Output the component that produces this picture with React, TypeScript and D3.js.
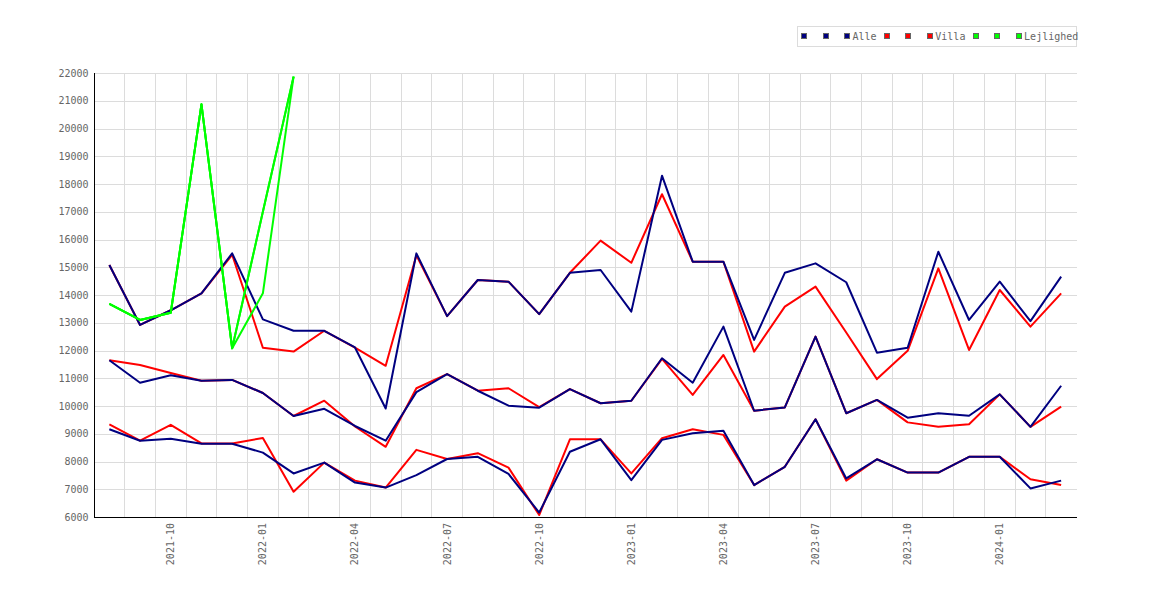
import React from 'react'
import * as d3 from 'd3'

// månedlige priser (kr/m2), aug 2021 - mar 2024
const months = [
	'2021-08', '2021-09', '2021-10', '2021-11', '2021-12',
	'2022-01', '2022-02', '2022-03', '2022-04', '2022-05', '2022-06',
	'2022-07', '2022-08', '2022-09', '2022-10', '2022-11', '2022-12',
	'2023-01', '2023-02', '2023-03', '2023-04', '2023-05', '2023-06',
	'2023-07', '2023-08', '2023-09', '2023-10', '2023-11', '2023-12',
	'2024-01', '2024-02', '2024-03',
]
const tickMonths = ['2021-10', '2022-01', '2022-04', '2022-07', '2022-10', '2023-01', '2023-04', '2023-07', '2023-10', '2024-01']

const alleHigh = [15080, 12920, 13450, 14060, 15500, 13120, 12710, 12710, 12110, 9910, 15500, 13240, 14540, 14480, 13310, 14800, 14900, 13400, 18300, 15200, 15200, 12380, 14800, 15140, 14460, 11920, 12100, 15560, 13100, 14480, 13060, 14660]
const alleMid = [11650, 10840, 11110, 10910, 10940, 10470, 9640, 9900, 9280, 8750, 10500, 11150, 10550, 10010, 9940, 10610, 10100, 10190, 11720, 10840, 12860, 9830, 9950, 12500, 9740, 10220, 9580, 9740, 9650, 10420, 9250, 10730]
const alleLow = [9160, 8750, 8820, 8640, 8640, 8320, 7570, 7960, 7240, 7060, 7510, 8090, 8170, 7550, 6160, 8350, 8800, 7330, 8780, 9020, 9110, 7150, 7810, 9520, 7390, 8080, 7600, 7600, 8170, 8170, 7030, 7310]

const villaHigh = [15080, 12920, 13450, 14060, 15450, 12100, 11960, 12710, 12100, 11450, 15430, 13240, 14540, 14480, 13310, 14800, 15960, 15160, 17630, 15200, 15200, 11960, 13580, 14300, 12650, 10970, 11990, 14960, 12020, 14180, 12860, 14060]
const villaMid = [11650, 11480, 11190, 10910, 10940, 10470, 9640, 10190, 9260, 8530, 10640, 11150, 10550, 10640, 9960, 10610, 10100, 10190, 11700, 10400, 11840, 9830, 9950, 12500, 9740, 10220, 9410, 9250, 9340, 10420, 9250, 9980]
const villaLow = [9340, 8750, 9320, 8650, 8650, 8850, 6910, 7960, 7310, 7060, 8420, 8090, 8300, 7780, 6070, 8800, 8800, 7570, 8840, 9160, 8960, 7150, 7810, 9520, 7310, 8080, 7600, 7600, 8170, 8170, 7360, 7150]

// lejligheder kun de første 7 måneder
const lejlHigh = [13680, 13100, 13360, 20870, 12080, 17000, 21870]
const lejlMid = [13680, 13100, 13360, 20870, 12080, 17000, 21870]
const lejlLow = [13680, 13100, 13360, 20870, 12080, 14060, 21870]

type serie = { name: string, color: string, lines: number[][] }
const series: serie[] = [
	{ name: 'Alle', color: '#000080', lines: [alleLow, alleMid, alleHigh] },
	{ name: 'Villa', color: '#ff0000', lines: [villaLow, villaMid, villaHigh] },
	{ name: 'Lejlighed', color: '#00ff00', lines: [lejlLow, lejlMid, lejlHigh] },
]
// tegnerækkefølge: villa under alle, lejlighed øverst
const drawOrder = [1, 0, 2]

const font = '"DejaVu Sans Mono", monospace'

export default function App() {
	const width = 1170
	const height = 600
	const left = 94, right = 1076.5, top = 73, bottom = 517

	const x = d3.scaleLinear().domain([-0.5, months.length - 0.5]).range([left, right])
	const y = d3.scaleLinear().domain([6000, 22000]).range([bottom, top])
	const line = d3.line<number>().x((d, i) => x(i)).y(d => y(d))

	const yTicks = y.ticks(16)
	const xGrid = d3.range(0, months.length - 1).map(i => i + 0.5)

	// legende: hver serie har 3 felter, kun det sidste har navn
	const legendItems: { color: string, label: string }[] = []
	series.forEach(s => {
		legendItems.push({ color: s.color, label: ' ' })
		legendItems.push({ color: s.color, label: ' ' })
		legendItems.push({ color: s.color, label: s.name })
	})
	let cx = 801
	const legendPos = legendItems.map(it => {
		const p = cx
		cx += 15.6 + 6 * it.label.length
		return p
	})

	return (
		<svg width={width} height={height} style={{ position: 'absolute', left: 0, top: 0, background: '#fff' }}>
			<g shapeRendering="crispEdges">
				{yTicks.map(t => (
					<line key={'h' + t} x1={left} x2={right} y1={Math.round(y(t)) + 0.5} y2={Math.round(y(t)) + 0.5} stroke="#dcdcdc" />
				))}
				{xGrid.map(g => (
					<line key={'v' + g} x1={Math.floor(x(g)) + 0.5} x2={Math.floor(x(g)) + 0.5} y1={top} y2={bottom} stroke="#dcdcdc" />
				))}
			</g>

			<g fill="none" strokeWidth={2} strokeLinejoin="round">
				{drawOrder.map(si => series[si].lines.map((l, li) => (
					<path key={si + '-' + li} d={line(l) || ''} stroke={series[si].color} />
				)))}
			</g>

			<g shapeRendering="crispEdges" stroke="#000">
				<line x1={left + 0.5} x2={left + 0.5} y1={top} y2={bottom + 0.5} />
				<line x1={left} x2={right} y1={bottom + 0.5} y2={bottom + 0.5} />
			</g>

			<g fontFamily={font} fontSize={10} fill="#666">
				{yTicks.map(t => (
					<text key={'yt' + t} x={88.5} y={y(t)} dy="0.35em" textAnchor="end">{t}</text>
				))}
				{tickMonths.map(m => {
					const xi = x(months.indexOf(m))
					return (
						<text key={m} transform={`translate(${xi},523) rotate(-90)`} dy="0.35em" textAnchor="end">{m}</text>
					)
				})}
			</g>

			<g fontFamily={font} fontSize={10}>
				<rect x={797.5} y={26.5} width={279} height={20} fill="#fff" stroke="#dcdcdc" shapeRendering="crispEdges" />
				{legendItems.map((it, i) => (
					<g key={'lg' + i}>
						<rect x={legendPos[i] + 0.5} y={33.5} width={5} height={5} fill={it.color} stroke="#666" shapeRendering="crispEdges" />
						<text x={legendPos[i] + 8.3} y={40} fill="#666" style={{ whiteSpace: 'pre' }}>{it.label}</text>
					</g>
				))}
			</g>
		</svg>
	)
}
